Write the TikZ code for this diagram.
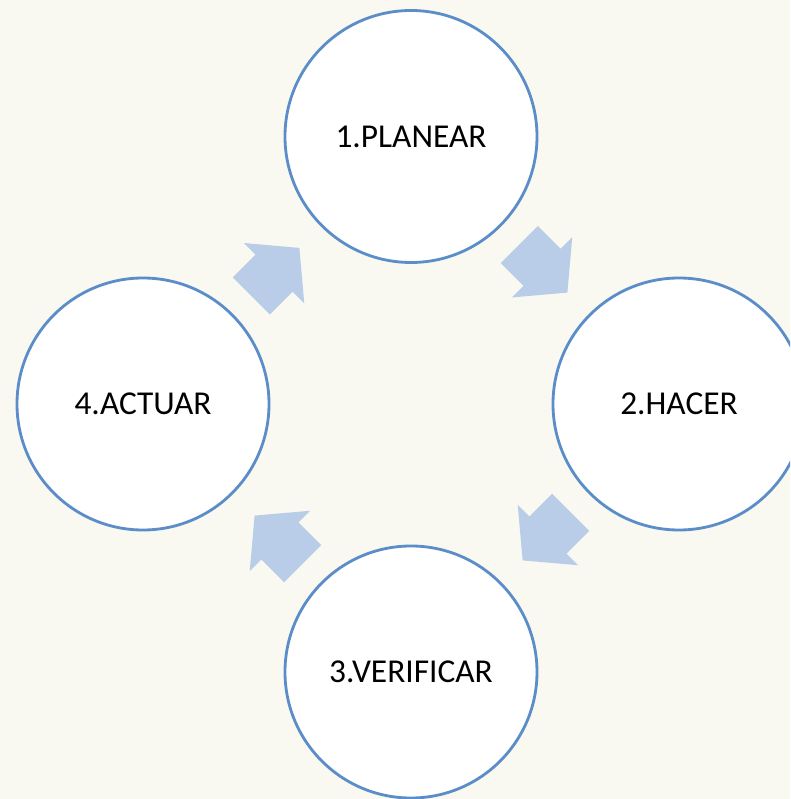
\documentclass[tikz,border=0pt]{standalone}
\usepackage{fontspec}
\setmainfont{Carlito}
\usetikzlibrary{shapes.arrows,calc}
\definecolor{fondo}{HTML}{F9F9F1}
\definecolor{borde}{HTML}{5B8DC8}
\definecolor{relleno}{HTML}{B9CDE8}
\tikzset{
	etapa/.style={circle, draw=borde, line width=0.8pt, fill=white, minimum size=2.52cm, inner sep=0pt, font=\fontsize{9.5}{11}\selectfont},
	flecha/.style={single arrow, fill=relleno, draw=none, anchor=tip, inner xsep=0pt, inner ysep=0.255cm, minimum height=0.68cm, single arrow head extend=0.165cm, single arrow tip angle=100}
}
\begin{document}
\begin{tikzpicture}
			\fill[fondo] (0,0) rectangle (7.9,7.99);
			\clip (0,0) rectangle (7.9,7.99);
			\node[etapa] (planear) at (4.11,6.625) {1.PLANEAR};
			\node[etapa] (hacer) at (6.79,3.95) {2.HACER};
			\node[etapa] (verificar) at (4.11,1.27) {3.VERIFICAR};
			\node[etapa] (actuar) at (1.43,3.95) {4.ACTUAR};
			\node[flecha, rotate=-45] (f1) at ($(planear)!0.586!(hacer)$) {};
			\node[flecha, rotate=-135] (f2) at ($(hacer)!0.586!(verificar)$) {};
			\node[flecha, rotate=135] (f3) at ($(verificar)!0.586!(actuar)$) {};
			\node[flecha, rotate=45] (f4) at ($(actuar)!0.586!(planear)$) {};
		\end{tikzpicture}
\end{document}
